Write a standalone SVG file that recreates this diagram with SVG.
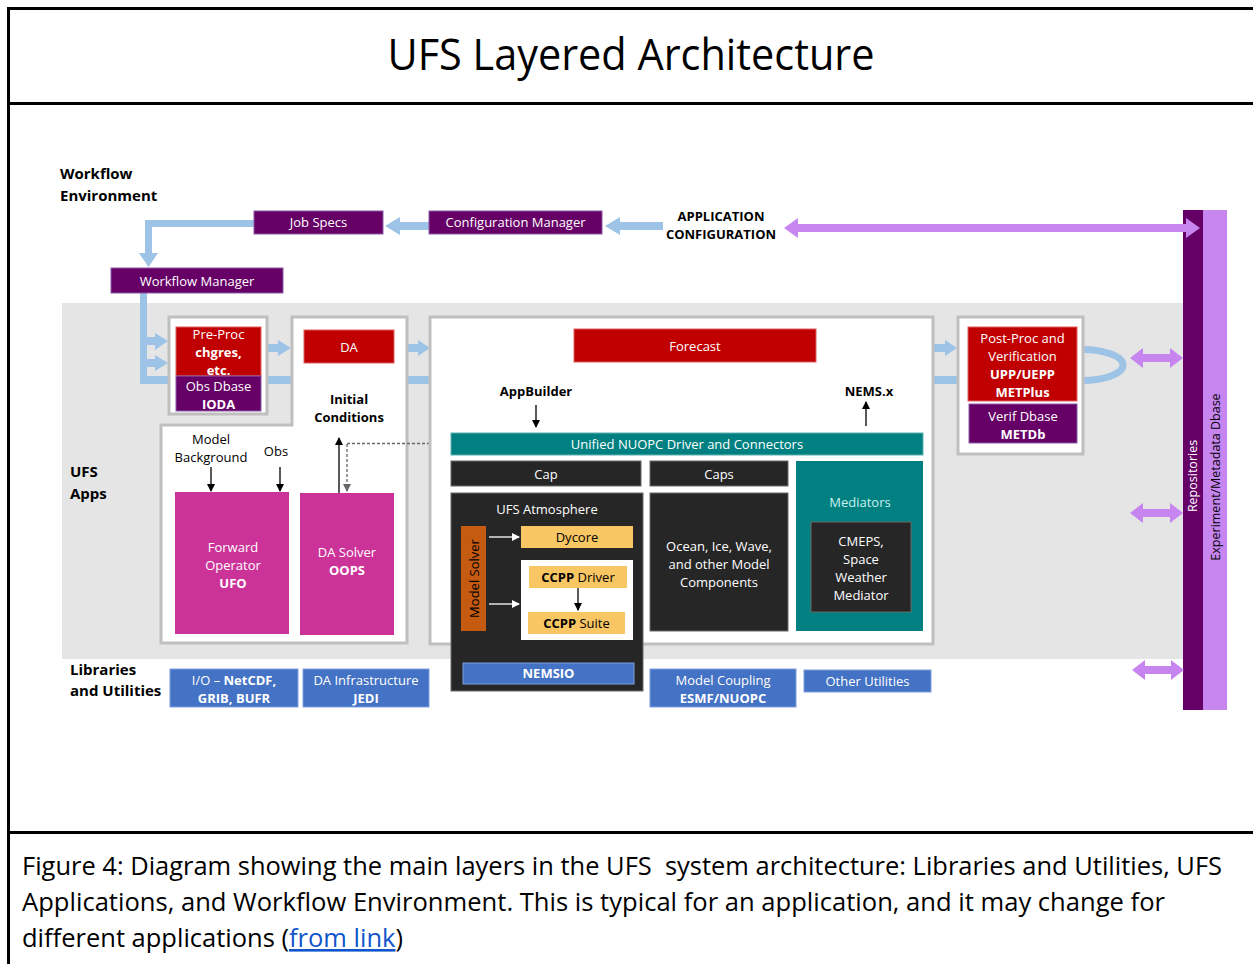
<svg xmlns="http://www.w3.org/2000/svg" width="1253" height="964" viewBox="0 0 1253 964">
<style>
text{font-family:"Open Sans","Liberation Sans",sans-serif;}
.t{font-size:13px;fill:#ffffff;text-anchor:middle;}
.k{font-size:13px;fill:#000000;text-anchor:middle;}
.b{font-weight:bold;}
.lbl{font-size:15px;font-weight:bold;fill:#000;}
.pur{fill:#660066;stroke:#8a5aa8;stroke-width:1;}
.red{fill:#c00000;stroke:#e06060;stroke-width:1;}
.mag{fill:#cc3399;}
.teal{fill:#008080;}
.dark{fill:#262626;stroke:#6a6a6a;stroke-width:1;}
.blu{fill:#4472c4;stroke:#7fa0dc;stroke-width:1;}
.yel{fill:#f9c664;}
.frame{fill:#ffffff;stroke:#bfbfbf;stroke-width:3;}
.lb{fill:#9dc3e6;}
.lv{fill:#c785f0;}
</style>
<defs>
<marker id="ah" markerWidth="8" markerHeight="8" refX="7" refY="4" orient="auto" markerUnits="userSpaceOnUse"><path d="M0,0 L8,4 L0,8 z" fill="#000"/></marker>
<marker id="ahw" markerWidth="8" markerHeight="8" refX="7" refY="4" orient="auto" markerUnits="userSpaceOnUse"><path d="M0,0 L8,4 L0,8 z" fill="#fff"/></marker>
<marker id="ahg" markerWidth="8" markerHeight="8" refX="7" refY="4" orient="auto" markerUnits="userSpaceOnUse"><path d="M0,0 L8,4 L0,8 z" fill="#666"/></marker>
</defs>
<rect width="1253" height="964" fill="#ffffff"/>
<!-- frame -->
<rect x="8.5" y="8.5" width="1270" height="1000" fill="none" stroke="#000" stroke-width="3"/>
<line x1="8" y1="103.5" x2="1253" y2="103.5" stroke="#000" stroke-width="3"/>
<line x1="8" y1="832.5" x2="1253" y2="832.5" stroke="#000" stroke-width="3"/>
<text x="631" y="70" font-size="44" text-anchor="middle" textLength="487" lengthAdjust="spacingAndGlyphs" fill="#000">UFS Layered Architecture</text>
<g id="caption" font-size="26" fill="#000">
<text x="22" y="875" textLength="1200" lengthAdjust="spacingAndGlyphs">Figure 4: Diagram showing the main layers in the UFS&#160; system architecture: Libraries and Utilities, UFS</text>
<text x="22" y="911" textLength="1143" lengthAdjust="spacingAndGlyphs">Applications, and Workflow Environment. This is typical for an application, and it may change for</text>
<text x="22" y="947" textLength="381" lengthAdjust="spacingAndGlyphs">different applications (<tspan fill="#1155cc" text-decoration="underline">from link</tspan>)</text>
</g>

<!-- background band -->
<rect x="62" y="303" width="1121" height="356" fill="#e5e5e5"/>

<!-- labels -->
<g id="layer-labels">
<text class="lbl" x="60" y="179">Workflow</text>
<text class="lbl" x="60" y="201">Environment</text>
<text class="lbl" x="70" y="477">UFS</text>
<text class="lbl" x="70" y="499">Apps</text>
<text class="lbl" x="70" y="675">Libraries</text>
<text class="lbl" x="70" y="696">and Utilities</text>
</g>

<!-- right bars -->
<g id="repositories">
<rect x="1183" y="210" width="20" height="500" fill="#660066"/>
<text x="0" y="0" transform="translate(1197,476) rotate(-90)" font-size="12.5" fill="#fff" text-anchor="middle">Repositories</text>
</g>
<g id="experiment-dbase">
<rect x="1203" y="210" width="24" height="500" fill="#c785f0"/>
<text x="0" y="0" transform="translate(1220,477) rotate(-90)" font-size="12.5" fill="#000" text-anchor="middle">Experiment/Metadata Dbase</text>
</g>

<!-- connectors -->
<g id="connectors">
<polygon class="lb" points="663,222 620,222 620,217 605,226 620,235 620,230 663,230"/>
<polygon class="lb" points="429,222 400,222 400,217 385,226 400,235 400,230 429,230"/>
<polygon class="lb" points="254,220 145,220 145,253 139,253 148.5,267 158,253 152,253 152,227 254,227"/>
<polygon class="lb" points="140,293 147,293 147,376 957,376 957,384 140,384"/>
<polygon class="lb" points="147,337 155,337 155,333 168,341 155,350 155,345 147,345"/>
<polygon class="lb" points="147,359 155,359 155,355 168,363 155,371 155,367 147,367"/>
<polygon class="lb" points="267,344 278,344 278,340 291,348 278,356 278,352 267,352"/>
<polygon class="lb" points="408,344 418,344 418,340 430,348 418,356 418,352 408,352"/>
<polygon class="lb" points="932,344 945,344 945,340 957,348 945,356 945,352 932,352"/>
<path d="M1082,349.5 A41,15.5 0 0 1 1082,380.5" fill="none" stroke="#9dc3e6" stroke-width="7"/>
<polygon class="lv" points="784,228 798,218 798,224 1186,224 1186,218 1200,228 1186,238 1186,232 798,232 798,238"/>
<polygon class="lv" points="1130,358 1143,348 1143,354 1170,354 1170,348 1183,358 1170,368 1170,362 1143,362 1143,368"/>
<polygon class="lv" points="1130,513 1143,503 1143,509 1170,509 1170,503 1183,513 1170,523 1170,517 1143,517 1143,523"/>
<polygon class="lv" points="1132,670 1145,660 1145,666 1171,666 1171,660 1184,670 1171,680 1171,674 1145,674 1145,680"/>
</g>

<!-- workflow nodes -->
<g id="job-specs">
<rect class="pur" x="254" y="211" width="129" height="23"/>
<text class="t" x="318.5" y="227">Job Specs</text>
</g>
<g id="config-manager">
<rect class="pur" x="429" y="211" width="173" height="23"/>
<text class="t" x="515.5" y="227">Configuration Manager</text>
</g>
<g id="app-config">
<text class="k b" x="721" y="221">APPLICATION</text>
<text class="k b" x="721" y="239">CONFIGURATION</text>
</g>
<g id="workflow-manager">
<rect class="pur" x="111" y="268" width="172" height="25"/>
<text class="t" x="197" y="285.5">Workflow Manager</text>
</g>

<!-- pre-proc -->
<g id="pre-proc">
<rect class="frame" x="169" y="317" width="98" height="97"/>
<rect class="red" x="176" y="327" width="85" height="49"/>
<text class="t" x="218.5" y="339">Pre-Proc</text>
<text class="t b" x="218.5" y="357">chgres,</text>
<text class="t b" x="218.5" y="375">etc.</text>
<rect class="pur" x="176" y="376" width="85" height="35"/>
<text class="t" x="218.5" y="391">Obs Dbase</text>
<text class="t b" x="218.5" y="409">IODA</text>
</g>

<!-- DA -->
<g id="da">
<polygon class="frame" points="292,317 407,317 407,643 161,643 161,425 292,425"/>
<rect class="red" x="304" y="330" width="90" height="33"/>
<text class="t" x="349" y="352">DA</text>
<text class="k b" x="349" y="404">Initial</text>
<text class="k b" x="349" y="422">Conditions</text>
<text class="k" x="211" y="444">Model</text>
<text class="k" x="211" y="462">Background</text>
<text class="k" x="276" y="456">Obs</text>
</g>
<g id="forward-operator">
<rect class="mag" x="175" y="492" width="114" height="142"/>
<text class="t" x="233" y="552">Forward</text>
<text class="t" x="233" y="570">Operator</text>
<text class="t b" x="233" y="588">UFO</text>
</g>
<g id="da-solver">
<rect class="mag" x="300" y="493" width="94" height="142"/>
<text class="t" x="347" y="557">DA Solver</text>
<text class="t b" x="347" y="575">OOPS</text>
</g>
<g id="da-connectors" stroke="#000" stroke-width="1.3" fill="none">
<line x1="211" y1="467" x2="211" y2="491" marker-end="url(#ah)"/>
<line x1="280" y1="467" x2="280" y2="491" marker-end="url(#ah)"/>
<line x1="339" y1="493" x2="339" y2="438" marker-end="url(#ah)"/>
<line x1="347" y1="444" x2="347" y2="491" stroke="#666" stroke-dasharray="3,2" marker-end="url(#ahg)"/>
<line x1="347" y1="443.5" x2="449" y2="443.5" stroke="#666" stroke-dasharray="3,2" marker-end="url(#ahg)"/>
</g>

<!-- forecast -->
<g id="forecast">
<rect class="frame" x="430" y="317" width="503" height="327"/>
<rect class="red" x="574" y="329" width="242" height="33"/>
<text class="t" x="695" y="351">Forecast</text>
<text class="k b" x="536" y="396">AppBuilder</text>
<text class="k b" x="869" y="396">NEMS.x</text>
<line x1="536" y1="405" x2="536" y2="427" stroke="#000" stroke-width="1.3" marker-end="url(#ah)"/>
<line x1="866" y1="426" x2="866" y2="402" stroke="#000" stroke-width="1.3" marker-end="url(#ah)"/>
</g>
<g id="nuopc-driver">
<rect class="teal" x="451" y="433" width="472" height="22" stroke="#5fb0b0" stroke-width="1"/>
<text class="t" x="687" y="449">Unified NUOPC Driver and Connectors</text>
</g>
<g id="cap">
<rect class="dark" x="451" y="461" width="190" height="25"/>
<text class="t" x="546" y="479">Cap</text>
</g>
<g id="caps">
<rect class="dark" x="650" y="461" width="138" height="25"/>
<text class="t" x="719" y="479">Caps</text>
</g>
<g id="mediators">
<rect class="teal" x="796" y="461" width="127" height="170"/>
<text class="t" x="860" y="507" style="fill:#c8f0f0">Mediators</text>
<rect class="dark" x="811" y="522" width="100" height="90"/>
<text class="t" x="861" y="546">CMEPS,</text>
<text class="t" x="861" y="564">Space</text>
<text class="t" x="861" y="582">Weather</text>
<text class="t" x="861" y="600">Mediator</text>
</g>
<g id="ocean-ice-wave">
<rect class="dark" x="650" y="493" width="138" height="138"/>
<text class="t" x="719" y="551">Ocean, Ice, Wave,</text>
<text class="t" x="719" y="569">and other Model</text>
<text class="t" x="719" y="587">Components</text>
</g>
<g id="ufs-atmosphere">
<rect class="dark" x="451" y="493" width="192" height="198"/>
<text class="t" x="547" y="514">UFS Atmosphere</text>
</g>
<g id="model-solver">
<rect x="461" y="526" width="25" height="105" fill="#c55a11"/>
<text x="0" y="0" transform="translate(479,578.5) rotate(-90)" font-size="13" fill="#000" text-anchor="middle">Model Solver</text>
</g>
<g id="dycore">
<rect class="yel" x="521" y="526" width="112" height="22"/>
<text class="k" x="577" y="542">Dycore</text>
</g>
<g id="ccpp">
<rect x="521" y="560" width="112" height="80" fill="#ffffff"/>
<rect class="yel" x="529" y="566" width="98" height="22"/>
<text class="k" x="578" y="582"><tspan font-weight="bold">CCPP</tspan> Driver</text>
<rect class="yel" x="528" y="612" width="97" height="22"/>
<text class="k" x="576.5" y="628"><tspan font-weight="bold">CCPP</tspan> Suite</text>
<line x1="578" y1="588" x2="578" y2="610" stroke="#000" stroke-width="1.3" marker-end="url(#ah)"/>
</g>
<g id="atm-connectors" stroke="#fff" stroke-width="1.3">
<line x1="489" y1="537" x2="519" y2="537" marker-end="url(#ahw)"/>
<line x1="489" y1="604" x2="519" y2="604" marker-end="url(#ahw)"/>
</g>
<g id="nemsio">
<rect class="blu" x="463" y="663" width="171" height="21"/>
<text class="t b" x="548.5" y="678">NEMSIO</text>
</g>

<!-- post-proc -->
<g id="post-proc">
<rect class="frame" x="958" y="317" width="125" height="137"/>
<rect class="red" x="968" y="327" width="109" height="74"/>
<text class="t" x="1022.5" y="343">Post-Proc and</text>
<text class="t" x="1022.5" y="361">Verification</text>
<text class="t b" x="1022.5" y="379">UPP/UEPP</text>
<text class="t b" x="1022.5" y="397">METPlus</text>
<rect class="pur" x="969" y="404" width="108" height="39"/>
<text class="t" x="1023" y="421">Verif Dbase</text>
<text class="t b" x="1023" y="439">METDb</text>
</g>

<!-- libraries -->
<g id="io-lib">
<rect class="blu" x="170" y="669" width="128" height="38"/>
<text class="t" x="234" y="685">I/O – <tspan font-weight="bold">NetCDF,</tspan></text>
<text class="t b" x="234" y="703">GRIB, BUFR</text>
</g>
<g id="da-infrastructure">
<rect class="blu" x="303" y="669" width="126" height="38"/>
<text class="t" x="366" y="685">DA Infrastructure</text>
<text class="t b" x="366" y="703">JEDI</text>
</g>
<g id="model-coupling">
<rect class="blu" x="650" y="669" width="146" height="38"/>
<text class="t" x="723" y="685">Model Coupling</text>
<text class="t b" x="723" y="703">ESMF/NUOPC</text>
</g>
<g id="other-utilities">
<rect class="blu" x="804" y="670" width="127" height="22"/>
<text class="t" x="867.5" y="686">Other Utilities</text>
</g>
</svg>
